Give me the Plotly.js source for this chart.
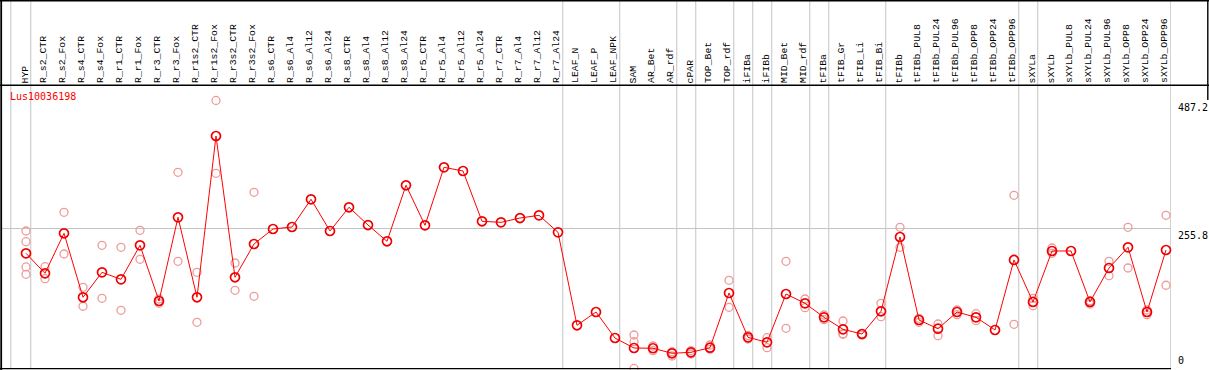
<!DOCTYPE html>
<html>
<head>
<meta charset="utf-8">
<script src="https://cdn.plot.ly/plotly-3.0.1.min.js"></script>
<style>
html,body{margin:0;padding:0;background:#fff;}
#chart{width:1209px;height:370px;}
</style>
</head>
<body>
<div id="chart"></div>
<script>
// ---------------- data ----------------
var geneName = "Lus10036198";

var categories = ["HYP","R_s2_CTR","R_s2_Fox","R_s4_CTR","R_s4_Fox","R_r1_CTR","R_r1_Fox","R_r3_CTR","R_r3_Fox","R_r1s2_CTR","R_r1s2_Fox","R_r3s2_CTR","R_r3s2_Fox","R_s6_CTR","R_s6_Al4","R_s6_Al12","R_s6_Al24","R_s8_CTR","R_s8_Al4","R_s8_Al12","R_s8_Al24","R_r5_CTR","R_r5_Al4","R_r5_Al12","R_r5_Al24","R_r7_CTR","R_r7_Al4","R_r7_Al12","R_r7_Al24","LEAF_N","LEAF_P","LEAF_NPK","SAM","AR_Bet","AR_rdf","cPAR","TOP_Bet","TOP_rdf","iFIBa","iFIBb","MID_Bet","MID_rdf","tFIBa","tFIB_Gr","tFIB_Li","tFIB_Bi","tFIBb","tFIBb_PUL8","tFIBb_PUL24","tFIBb_PUL96","tFIBb_OPP8","tFIBb_OPP24","tFIBb_OPP96","sXYLa","sXYLb","sXYLb_PUL8","sXYLb_PUL24","sXYLb_PUL96","sXYLb_OPP8","sXYLb_OPP24","sXYLb_OPP96"];

var means = [209.9,173.6,246.2,130.1,175.4,162.7,224.4,123.4,275.2,130.1,
             422.7,166.4,226.8,254.0,257.6,307.9,250.4,293.4,261.2,231.7,
             333.3,260.7,365.9,359.2,268.0,266.1,273.9,278.8,248.0,79.3,
             103.4,56.2,38.1,37.6,28.5,30.3,38.6,137.9,57.5,48.4,
             136.1,119.2,93.8,72.0,63.5,104.7,239.5,88.9,73.1,103.4,
             93.8,70.8,197.8,121.6,214.1,214.1,121.6,183.2,220.8,103.4,215.9];

var replicates = [
  [250.4,231.0,185.1,171.8],[185.6,163.8],[284.3,208.6],[148.2,113.8],[224.4,128.3],
  [220.8,106.5],[251.6,199.0],[127.0,119.2],[356.9,195.4],[175.4,84.7],
  [487.2,355.0],[192.3,142.8],[320.6,131.9],[],[],
  [],[],[],[],[],
  [],[],[],[],[],
  [],[],[],[],[],
  [],[],[61.7,49.5,1.0],[41.7,33.2],[31.4,23.6],
  [33.2,27.2],[43.5,35.7],[160.9,111.9],[60.8,54.4],[56.8,38.6],
  [195.4,73.8],[127.0,111.2],[98.0,89.4],[87.1,63.0,64.0],[64.0,61.7],
  [119.2,94.9],[257.1,220.8],[92.0,84.7],[81.6,60.4],[107.0,98.5],
  [100.3,87.6],[],[315.1,81.1],[128.3,114.8],[219.5,209.9],
  [],[123.9,117.9],[195.4,169.3],[257.1,183.2],[107.0,98.5],[278.8,151.9]
];

var yTickValues = [0, 255.8, 487.2];
var yTickLabels = ["0", "255.8", "487.2"];

// indices of the last sample of each group (separator drawn after them)
var groupEnds = [-1, 0, 28, 31, 34, 35, 37, 38, 39, 41, 42, 45, 52, 53, 60];

// ---------------- layout constants ----------------
var W = 1209, H = 370;
var plotL = 1, plotR = 1171, plotT = 0, plotB = 369;
var pxPerCat = 19, firstCatPx = 26;
var pxPerUnit = 0.5512;

var xRange = [(plotL - firstCatPx) / pxPerCat, (plotR - firstCatPx) / pxPerCat];
var yRange = [0, (plotB - plotT) / pxPerUnit];

function px2paperX(px){ return (px - plotL) / (plotR - plotL); }
function px2paperY(py){ return (plotB - py) / (plotB - plotT); }

var idx = categories.map(function(_, i){ return i; });

// replicate points
var repX = [], repY = [];
replicates.forEach(function(arr, i){
  arr.forEach(function(v){ repX.push(i); repY.push(v); });
});

var traces = [
  {
    x: repX, y: repY, type: 'scatter', mode: 'markers',
    marker: {symbol: 'circle-open', size: 8, color: '#ee9a9a', line: {width: 1.3, color: '#ee9a9a'}},
    cliponaxis: false, hoverinfo: 'y', showlegend: false
  },
  {
    x: idx, y: means, type: 'scatter', mode: 'lines+markers',
    line: {color: '#ff0000', width: 1},
    marker: {symbol: 'circle-open', size: 9, color: '#ee0000', line: {width: 1.7, color: '#ee0000'}},
    cliponaxis: false, hoverinfo: 'y', showlegend: false
  }
];

var monoFont = 'DejaVu Sans Mono, Liberation Mono, monospace';
var labelFont = 'Liberation Mono, DejaVu Sans Mono, monospace';

var shapes = [];
// group separators
groupEnds.forEach(function(g){
  var xv = (g < 0) ? g + 0.2 : g + 0.25;
  shapes.push({type: 'line', xref: 'x', yref: 'paper', x0: xv, x1: xv, y0: 0, y1: 1,
               line: {color: '#c4c4c4', width: 1}, layer: 'below'});
});
// frame lines
var black = '#000000';
shapes.push({type:'line', xref:'paper', yref:'paper', x0:px2paperX(0), x1:px2paperX(W), y0:px2paperY(0.8), y1:px2paperY(0.8), line:{color:black, width:1.6}});
shapes.push({type:'line', xref:'paper', yref:'paper', x0:px2paperX(0), x1:px2paperX(W), y0:px2paperY(85.3), y1:px2paperY(85.3), line:{color:black, width:1.4}});
shapes.push({type:'line', xref:'paper', yref:'paper', x0:px2paperX(0), x1:px2paperX(1171), y0:px2paperY(368.6), y1:px2paperY(368.6), line:{color:black, width:1.4}});
shapes.push({type:'line', xref:'paper', yref:'paper', x0:px2paperX(1.2), x1:px2paperX(1.2), y0:px2paperY(0), y1:px2paperY(370), line:{color:black, width:1.8}});
shapes.push({type:'line', xref:'paper', yref:'paper', x0:px2paperX(1207.8), x1:px2paperX(1207.8), y0:px2paperY(0), y1:px2paperY(100), line:{color:black, width:1.4}});

var annotations = [];
// category labels
categories.forEach(function(c, i){
  annotations.push({
    x: i, xref: 'x', y: px2paperY(84.5), yref: 'paper',
    text: c, textangle: -90, showarrow: false,
    xanchor: 'center', yanchor: 'bottom', xshift: -1, borderpad: 0,
    font: {family: labelFont, size: 9.8, color: '#000'}
  });
});
// gene name
annotations.push({
  x: px2paperX(8.5), xref: 'paper', y: px2paperY(96.7), yref: 'paper',
  text: geneName, showarrow: false, xanchor: 'left', yanchor: 'middle', borderpad: 0,
  font: {family: monoFont, size: 10, color: '#ff0000'}
});
// y value labels on right
yTickValues.forEach(function(v, k){
  annotations.push({
    x: 1, xref: 'paper', y: v, yref: 'y',
    text: yTickLabels[k], showarrow: false, xanchor: 'left',
    yanchor: (v === 0) ? 'bottom' : 'top',
    xshift: 5.5, yshift: (v === 0) ? 2 : -0.5, borderpad: 0,
    font: {family: monoFont, size: 10, color: '#000'}
  });
});

var layout = {
  width: W, height: H,
  margin: {l: plotL, r: W - plotR, t: plotT, b: H - plotB, pad: 0},
  paper_bgcolor: '#ffffff', plot_bgcolor: '#ffffff',
  xaxis: {range: xRange, showgrid: false, zeroline: false, showticklabels: false, ticks: '', showline: false, fixedrange: true},
  yaxis: {range: yRange, tickvals: [yTickValues[1]], showgrid: true, gridcolor: '#c4c4c4', gridwidth: 1,
          zeroline: false, showticklabels: false, ticks: '', showline: false, fixedrange: true},
  shapes: shapes,
  annotations: annotations,
  showlegend: false
};

Plotly.newPlot('chart', traces, layout, {displayModeBar: false, staticPlot: true});
</script>
</body>
</html>
